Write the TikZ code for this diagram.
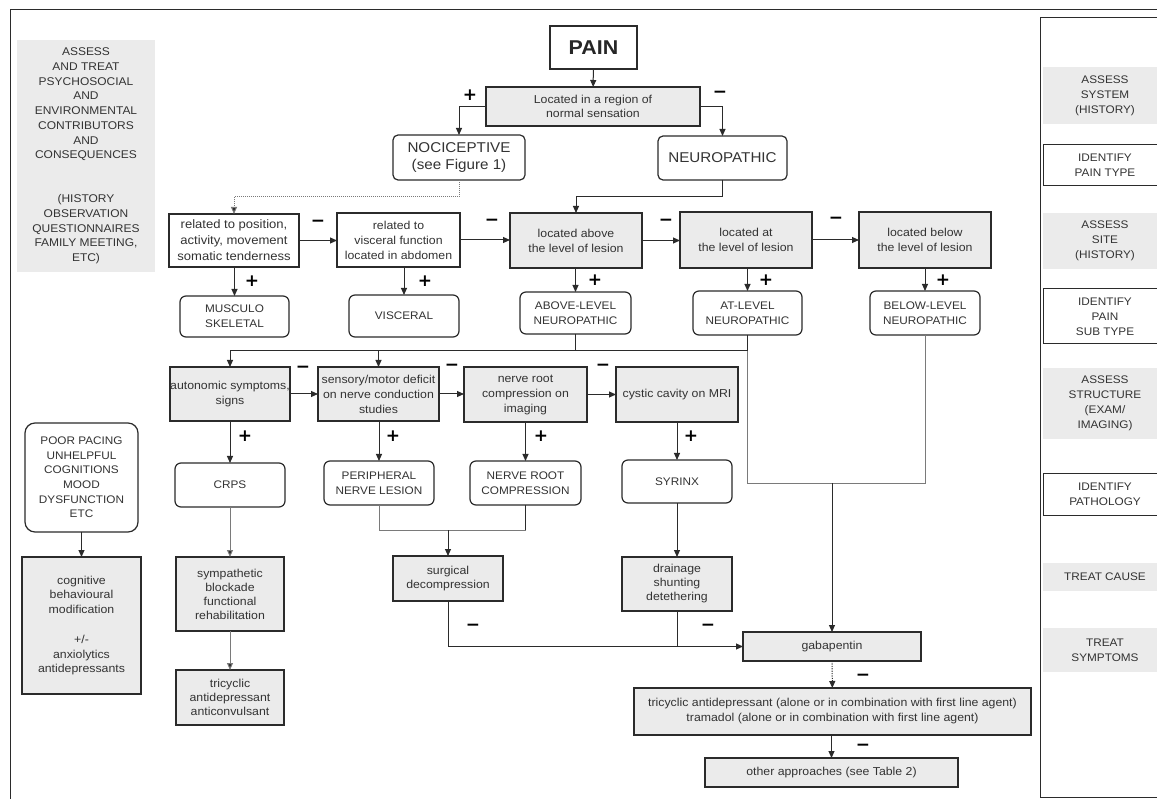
\documentclass[tikz,border=0pt]{standalone}
\usepackage{fontspec}
\setmainfont{Liberation Sans}[FakeStretch=1.07]
\newfontfamily\signfont{DejaVu Sans}
\usetikzlibrary{arrows.meta}
\definecolor{ink}{HTML}{2B2B2B}
\definecolor{txtc}{HTML}{333333}
\definecolor{panel}{HTML}{EBEBEB}
\definecolor{wire}{HTML}{7A7A7A}

\begin{document}
\begin{tikzpicture}[x=1pt,y=-1pt,
  every node/.style={inner sep=0pt, outer sep=0pt, text=txtc, align=center},
  lc/.style={font=\fontsize{11.5}{15}\selectfont},
  uc/.style={font=\fontsize{11}{15}\selectfont},
  bigc/.style={font=\fontsize{14.2}{17}\selectfont},
  gbox/.style={draw=ink, line width=1.2pt, fill=panel, lc},
  wbox/.style={draw=ink, line width=1.2pt, fill=white, lc},
  term/.style={draw=ink, line width=1.2pt, fill=white, rounded corners=6pt, uc},
  band/.style={fill=panel, uc},
  sidebox/.style={draw=ink, line width=1pt, fill=white, uc},
  sz/.style 2 args={minimum width=#1pt, minimum height=#2pt},
  sgn/.style={font=\signfont\bfseries\fontsize{17}{17}\selectfont, text=black},
  arr/.style={draw=ink, line width=1pt, -{Triangle[length=7pt,width=6pt]}},
  ln/.style={draw=ink, line width=1pt},
  garr/.style={draw=wire, line width=1pt, -{Triangle[length=7pt,width=6pt,fill=ink]}},
  gln/.style={draw=wire, line width=1pt},
]
\useasboundingbox (0,0) rectangle (1157,799);
\clip (0,0) rectangle (1157,799);
\fill[white] (0,0) rectangle (1157,799);

% outer frame and the right-hand step column
\draw[ink, line width=1pt] (1157,10) -- (10,10) -- (10,799);
\draw[ink, line width=1pt] (1157,18) -- (1040,18) -- (1040,797) -- (1157,797);

% left column: psychosocial assessment
\node[band, sz={138}{232}, font=\fontsize{11.2}{14.7}\selectfont] (psy) at (86,156)
  {ASSESS\\AND TREAT\\PSYCHOSOCIAL\\AND\\ENVIRONMENTAL\\CONTRIBUTORS\\AND\\CONSEQUENCES\\[29.4pt](HISTORY\\OBSERVATION\\QUESTIONNAIRES\\FAMILY MEETING,\\ETC)};
\node[draw=ink, line width=1.2pt, rounded corners=10pt, sz={113}{109}, font=\fontsize{11}{14.6}\selectfont] (pace) at (81.5,477.5)
  {POOR PACING\\UNHELPFUL\\COGNITIONS\\MOOD\\DYSFUNCTION\\ETC};
\node[gbox, sz={119}{137}, font=\fontsize{11.5}{14.8}\selectfont] (cbt) at (81.5,625.5)
  {cognitive\\behavioural\\modification\\[14.8pt]+/-\\anxiolytics\\antidepressants};

% top of the tree
\node[draw=ink, line width=1.2pt, fill=white, sz={87}{43}, font=\bfseries\fontsize{20}{24}\selectfont, text=black!85] (pain) at (593.5,47.5) {PAIN};
\node[gbox, sz={214}{39}, font=\fontsize{11.5}{13.5}\selectfont] (loc) at (593,106.5) {Located in a region of\\normal sensation};
\node[term, rounded corners=5pt, sz={132}{45}, bigc] (noci) at (459,157.5) {NOCICEPTIVE\\(see Figure 1)};
\node[term, rounded corners=5pt, sz={129}{44}, bigc] (neuro) at (722.5,158) {NEUROPATHIC};

% site questions
\node[wbox, sz={130}{53}, font=\fontsize{12.2}{16}\selectfont] (pos) at (234,240.5) {related to position,\\activity, movement\\somatic tenderness};
\node[wbox, sz={123}{54}] (visc) at (398.5,240) {related to\\visceral function\\located in abdomen};
\node[gbox, sz={132}{55}] (above) at (576,240.5) {located above\\the level of lesion};
\node[gbox, sz={132}{56}] (atl) at (746,240) {located at\\the level of lesion};
\node[gbox, sz={132}{56}] (below) at (925,240) {located below\\the level of lesion};

% pain sub types
\node[term, sz={109}{41}] (msk) at (234.5,316.5) {MUSCULO\\SKELETAL};
\node[term, sz={110}{42}] (vsc) at (404,316) {VISCERAL};
\node[term, sz={111}{42}] (abv) at (575.5,313) {ABOVE-LEVEL\\NEUROPATHIC};
\node[term, sz={109}{44}] (atn) at (747.5,313) {AT-LEVEL\\NEUROPATHIC};
\node[term, sz={110}{44}] (blw) at (925,313) {BELOW-LEVEL\\NEUROPATHIC};

% structure questions
\node[gbox, sz={120}{54}] (auto) at (230,394) {autonomic symptoms,\\signs};
\node[gbox, sz={121}{54}] (sens) at (378.5,394) {sensory/motor deficit\\on nerve conduction\\studies};
\node[gbox, sz={123}{55}] (nroot) at (525.5,394.5) {nerve root\\compression on\\imaging};
\node[gbox, sz={122}{55}] (cyst) at (677,394.5) {cystic cavity on MRI};

% pathologies
\node[term, sz={110}{44}] (crps) at (230,485) {CRPS};
\node[term, sz={110}{44}] (pnl) at (379,483) {PERIPHERAL\\NERVE LESION};
\node[term, sz={111}{44}] (nrc) at (525.5,483) {NERVE ROOT\\COMPRESSION};
\node[term, sz={110}{43}] (syr) at (677,481.5) {SYRINX};

% treatments
\node[gbox, sz={108}{74}, font=\fontsize{11.5}{14}\selectfont] (symp) at (230,594) {sympathetic\\blockade\\functional\\rehabilitation};
\node[gbox, sz={108}{55}, font=\fontsize{11.5}{14}\selectfont] (tca) at (230,697.5) {tricyclic\\antidepressant\\anticonvulsant};
\node[gbox, sz={110}{45}, font=\fontsize{11.5}{14}\selectfont] (surg) at (448,578.5) {surgical\\decompression};
\node[gbox, sz={110}{54}, font=\fontsize{11.5}{14}\selectfont] (drain) at (677,584) {drainage\\shunting\\detethering};
\node[gbox, sz={178}{29}] (gaba) at (832,646.5) {gabapentin};
\node[gbox, sz={397}{47}] (tram) at (832.5,711.5) {tricyclic antidepressant (alone or in combination with first line agent)\\tramadol (alone or in combination with first line agent)};
\node[gbox, sz={253}{29}] (other) at (831.5,772.5) {other approaches (see Table 2)};

% right column: steps
\node[band, sz={124}{57}] (r1) at (1105,95.5) {ASSESS\\SYSTEM\\(HISTORY)};
\node[sidebox, sz={124}{41}] (r2) at (1105,165.5) {IDENTIFY\\PAIN TYPE};
\node[band, sz={124}{56}] (r3) at (1105,241) {ASSESS\\SITE\\(HISTORY)};
\node[sidebox, sz={124}{55}] (r4) at (1105,316.5) {IDENTIFY\\PAIN\\SUB TYPE};
\node[band, sz={124}{71}] (r5) at (1105,403.5) {ASSESS\\STRUCTURE\\(EXAM/\\IMAGING)};
\node[sidebox, sz={124}{42}] (r6) at (1105,494) {IDENTIFY\\PATHOLOGY};
\node[band, sz={124}{28}] (r7) at (1105,577) {TREAT CAUSE};
\node[band, sz={124}{44}] (r8) at (1105,650) {TREAT\\SYMPTOMS};

% yes / no marks
\node[sgn] (p0) at (470,95) {+};
\node[sgn] (m0) at (720,94) {−};
\node[sgn] (m1) at (318,223) {−};
\node[sgn] (m2) at (492,222) {−};
\node[sgn] (m3) at (666,222) {−};
\node[sgn] (m4) at (836,220) {−};
\node[sgn] (p1) at (252,281) {+};
\node[sgn] (p2) at (425,281) {+};
\node[sgn] (p3) at (595,280) {+};
\node[sgn] (p4) at (766,280) {+};
\node[sgn] (p5) at (943,280) {+};
\node[sgn] (m5) at (303,369) {−};
\node[sgn] (m6) at (452,367) {−};
\node[sgn] (m7) at (603,367) {−};
\node[sgn] (p6) at (245,436) {+};
\node[sgn] (p7) at (393,436) {+};
\node[sgn] (p8) at (541,436) {+};
\node[sgn] (p9) at (691,436) {+};
\node[sgn] (m8) at (473,627) {−};
\node[sgn] (m9) at (708,627) {−};
\node[sgn] (m10) at (863,677) {−};
\node[sgn] (m11) at (863,747) {−};

% helper levels for shared lines
\coordinate (busy) at (0,351);
\coordinate (gy) at (0,483);
\coordinate (sy) at (0,530);

% connectors
\draw[arr] (pain) -- (loc);
\draw[arr] (loc.west) -| (noci.north);
\draw[arr] (loc.east) -| (neuro.north);
\draw[gln, dash pattern=on 1pt off 1pt, -{Triangle[length=7pt,width=6pt,fill=ink]}] (noci.south) -- ++(0,17) -| (pos.north);
\draw[arr] (neuro.south) -- ++(0,17) -| (above.north);

\draw[arr] (pos.east) -- (pos.east -| visc.west);
\draw[arr] (visc.east) -- (visc.east -| above.west);
\draw[arr] (above.east) -- (above.east -| atl.west);
\draw[arr] (atl.east) -- (atl.east -| below.west);

\draw[arr] (msk.north |- pos.south) -- (msk.north);
\draw[arr] (vsc.north |- visc.south) -- (vsc.north);
\draw[arr] (abv.north |- above.south) -- (abv.north);
\draw[arr] (atn.north |- atl.south) -- (atn.north);
\draw[arr] (blw.north |- below.south) -- (blw.north);

\draw[ln] (atn.south) -- (atn.south |- busy) -- (auto.north |- busy);
\draw[ln] (abv.south) -- (abv.south |- busy);
\draw[arr] (auto.north |- busy) -- (auto.north);
\draw[arr] (sens.north |- busy) -- (sens.north);

\draw[gln] (atn.south |- busy) -- (atn.south |- gy) -- (blw.south |- gy) -- (blw.south);
\draw[arr] (gaba.north |- gy) -- (gaba.north);

\draw[arr] (auto.east) -- (auto.east -| sens.west);
\draw[arr] (sens.east) -- (sens.east -| nroot.west);
\draw[arr] (nroot.east) -- (nroot.east -| cyst.west);

\draw[arr] (crps.north |- auto.south) -- (crps.north);
\draw[arr] (pnl.north |- sens.south) -- (pnl.north);
\draw[arr] (nrc.north |- nroot.south) -- (nrc.north);
\draw[arr] (syr.north |- cyst.south) -- (syr.north);

\draw[garr] (crps) -- (symp);
\draw[garr] (symp) -- (tca);
\draw[gln] (pnl.south) -- (pnl.south |- sy) -- (nrc.south |- sy);
\draw[ln] (nrc.south) -- (nrc.south |- sy);
\draw[arr] (surg.north |- sy) -- (surg.north);
\draw[arr] (syr) -- (drain);

\draw[arr] (surg.south) |- (gaba.west);
\draw[ln] (drain.south) -- (drain.south |- gaba.west);
\draw[arr, dash pattern=on 1.2pt off 1.2pt] (gaba) -- (tram);
\draw[arr] (other.north |- tram.south) -- (other.north);

\draw[arr] (pace) -- (cbt);
\end{tikzpicture}
\end{document}
